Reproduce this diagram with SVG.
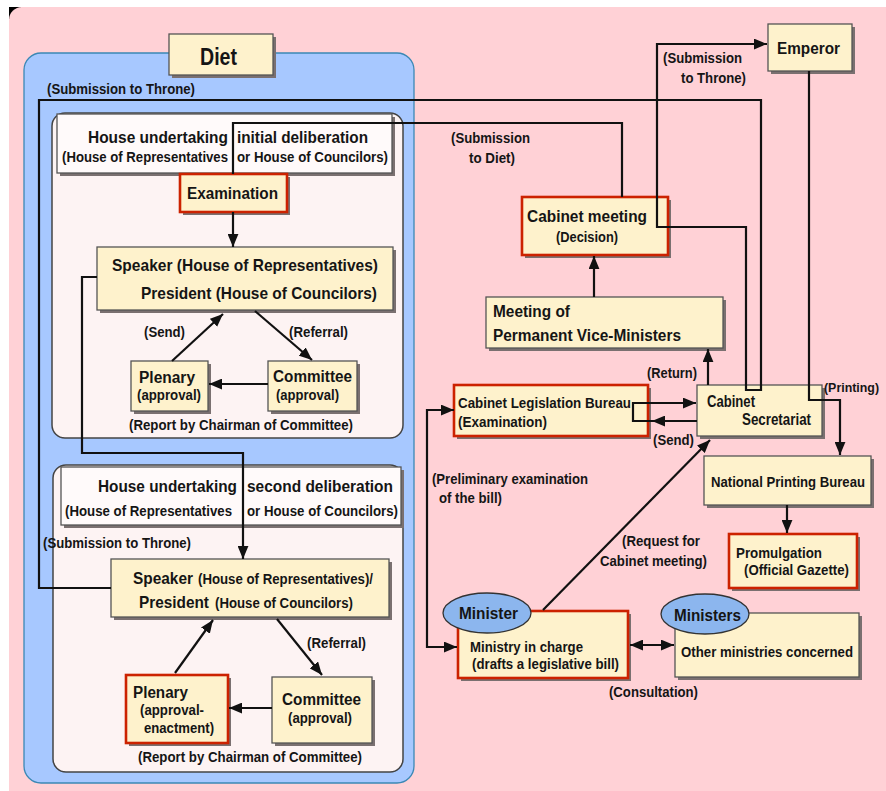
<svg xmlns="http://www.w3.org/2000/svg" width="886" height="791" viewBox="0 0 886 791">
<defs>
<style>
text { font-family: "Liberation Sans", Arial, sans-serif; font-weight: bold; fill: #151515; }
.f23 { font-size: 23px; }
.f17 { font-size: 17px; }
.f16 { font-size: 16px; }
.f15 { font-size: 15px; }
.f14 { font-size: 14px; }
.f13 { font-size: 13px; }
.box { fill: #fef2cc; stroke: #555; stroke-width: 1.3; }
.red { fill: #fef2cc; stroke: #cc2200; stroke-width: 2.6; }
.hdr { fill: #fffafa; stroke: #555; stroke-width: 1.3; }
.sh { fill: #7a7070; }
.ell { fill: #8cb6ee; stroke: #333; stroke-width: 1.3; }
.ln { fill: none; stroke: #111; stroke-width: 2.2; }
.ar { marker-end: url(#ah); }
.ar2 { marker-start: url(#ah); marker-end: url(#ah); }
</style>
<marker id="ah" viewBox="0 0 12 10" refX="12" refY="5" markerWidth="13" markerHeight="11" markerUnits="userSpaceOnUse" orient="auto-start-reverse">
<path d="M0,0 L12,5 L0,10 z" fill="#111"/>
</marker>
</defs>

<g id="background">
<rect x="0" y="0" width="886" height="791" fill="#ffffff"/>
<rect x="9" y="7" width="12" height="12" fill="#000"/>
<rect x="9" y="779" width="12" height="12" fill="#000"/>
<rect x="9" y="7" width="890" height="800" rx="13" fill="#ffd1d6"/>
</g>

<g id="diet-panel">
<rect x="24" y="53" width="390" height="730" rx="17" fill="#a7c8ff" stroke="#3b88b5" stroke-width="1.3"/>
</g>

<g id="diet">
<rect class="sh" x="172" y="37" width="104" height="41"/>
<rect class="box" x="169" y="34" width="104" height="41"/>
<text class="f23" x="200" y="65" textLength="37" lengthAdjust="spacingAndGlyphs">Diet</text>
</g>

<g id="house-initial">
<rect x="52" y="113" width="351" height="325" rx="13" fill="#fdf3f3" stroke="#444" stroke-width="1.5"/>
<rect class="sh" x="60" y="117" width="335" height="59"/>
<rect class="hdr" x="57" y="114" width="335" height="59"/>
<text class="f16" x="88" y="143" textLength="140" lengthAdjust="spacingAndGlyphs">House undertaking</text>
<text class="f16" x="237" y="143" textLength="131" lengthAdjust="spacingAndGlyphs">initial deliberation</text>
<text class="f15" x="62" y="162" textLength="166" lengthAdjust="spacingAndGlyphs">(House of Representatives</text>
<text class="f15" x="237" y="162" textLength="151" lengthAdjust="spacingAndGlyphs">or House of Councilors)</text>
</g>

<g id="examination">
<rect class="sh" x="183" y="177" width="107" height="38"/>
<rect class="red" x="180" y="174" width="107" height="38"/>
<text class="f16" x="187" y="199" textLength="91" lengthAdjust="spacingAndGlyphs">Examination</text>
</g>

<g id="speaker1">
<rect class="sh" x="100" y="250" width="296" height="63"/>
<rect class="box" x="97" y="247" width="296" height="63"/>
<text class="f17" x="112" y="271" textLength="266" lengthAdjust="spacingAndGlyphs">Speaker (House of Representatives)</text>
<text class="f17" x="141" y="299" textLength="236" lengthAdjust="spacingAndGlyphs">President (House of Councilors)</text>
</g>

<g id="plenary1">
<rect class="sh" x="134" y="364" width="77" height="50"/>
<rect class="box" x="131" y="361" width="77" height="50"/>
<text class="f16" x="139" y="383" textLength="56" lengthAdjust="spacingAndGlyphs">Plenary</text>
<text class="f14" x="137" y="400" textLength="64" lengthAdjust="spacingAndGlyphs">(approval)</text>
</g>

<g id="committee1">
<rect class="sh" x="271" y="364" width="89" height="50"/>
<rect class="box" x="268" y="361" width="89" height="50"/>
<text class="f16" x="273" y="382" textLength="79" lengthAdjust="spacingAndGlyphs">Committee</text>
<text class="f14" x="276" y="400" textLength="63" lengthAdjust="spacingAndGlyphs">(approval)</text>
</g>

<g id="house-second">
<rect x="53" y="465" width="350" height="307" rx="13" fill="#fdf3f3" stroke="#444" stroke-width="1.5"/>
<rect class="sh" x="64" y="470" width="340" height="58"/>
<rect class="hdr" x="61" y="467" width="340" height="58"/>
<text class="f16" x="98" y="492" textLength="139" lengthAdjust="spacingAndGlyphs">House undertaking</text>
<text class="f16" x="247" y="492" textLength="146" lengthAdjust="spacingAndGlyphs">second deliberation</text>
<text class="f15" x="65" y="516" textLength="167" lengthAdjust="spacingAndGlyphs">(House of Representatives</text>
<text class="f15" x="247" y="516" textLength="151" lengthAdjust="spacingAndGlyphs">or House of Councilors)</text>
</g>

<g id="speaker2">
<rect class="sh" x="114" y="562" width="278" height="58"/>
<rect class="box" x="111" y="559" width="278" height="58"/>
<text class="f17" x="133" y="584" textLength="60" lengthAdjust="spacingAndGlyphs">Speaker</text>
<text class="f14" x="198" y="584" textLength="175" lengthAdjust="spacingAndGlyphs">(House of Representatives)/</text>
<text class="f17" x="139" y="608" textLength="70" lengthAdjust="spacingAndGlyphs">President</text>
<text class="f14" x="215" y="608" textLength="138" lengthAdjust="spacingAndGlyphs">(House of Councilors)</text>
</g>

<g id="plenary2">
<rect class="sh" x="129" y="678" width="102" height="68"/>
<rect class="red" x="126" y="675" width="102" height="68"/>
<text class="f16" x="133" y="698" textLength="55" lengthAdjust="spacingAndGlyphs">Plenary</text>
<text class="f14" x="140" y="715" textLength="64" lengthAdjust="spacingAndGlyphs">(approval-</text>
<text class="f14" x="144" y="733" textLength="70" lengthAdjust="spacingAndGlyphs">enactment)</text>
</g>

<g id="committee2">
<rect class="sh" x="275" y="680" width="100" height="66"/>
<rect class="box" x="272" y="677" width="100" height="66"/>
<text class="f16" x="282" y="705" textLength="79" lengthAdjust="spacingAndGlyphs">Committee</text>
<text class="f14" x="288" y="723" textLength="64" lengthAdjust="spacingAndGlyphs">(approval)</text>
</g>

<g id="emperor">
<rect class="sh" x="771" y="27" width="84" height="47"/>
<rect class="box" x="768" y="24" width="84" height="47"/>
<text class="f16" x="777" y="54" textLength="63" lengthAdjust="spacingAndGlyphs">Emperor</text>
</g>

<g id="cabinet-meeting">
<rect class="sh" x="525" y="200" width="146" height="58"/>
<rect class="red" x="522" y="197" width="146" height="58"/>
<text class="f16" x="527" y="222" textLength="120" lengthAdjust="spacingAndGlyphs">Cabinet meeting</text>
<text class="f15" x="556" y="242" textLength="62" lengthAdjust="spacingAndGlyphs">(Decision)</text>
</g>

<g id="vice-ministers">
<rect class="sh" x="489" y="300" width="237" height="51"/>
<rect class="box" x="486" y="297" width="237" height="51"/>
<text class="f16" x="493" y="317" textLength="77" lengthAdjust="spacingAndGlyphs">Meeting of</text>
<text class="f16" x="493" y="341" textLength="188" lengthAdjust="spacingAndGlyphs">Permanent Vice-Ministers</text>
</g>

<g id="legislation-bureau">
<rect class="sh" x="457" y="388" width="194" height="51"/>
<rect class="red" x="454" y="385" width="194" height="51"/>
<text class="f15" x="458" y="408" textLength="173" lengthAdjust="spacingAndGlyphs">Cabinet Legislation Bureau</text>
<text class="f15" x="458" y="427" textLength="89" lengthAdjust="spacingAndGlyphs">(Examination)</text>
</g>

<g id="cabinet-secretariat">
<rect class="sh" x="700" y="388" width="125" height="51"/>
<rect class="box" x="697" y="385" width="125" height="51"/>
<text class="f16" x="707" y="407" textLength="48" lengthAdjust="spacingAndGlyphs">Cabinet</text>
<text class="f16" x="742" y="425" textLength="69" lengthAdjust="spacingAndGlyphs">Secretariat</text>
</g>

<g id="printing-bureau">
<rect class="sh" x="707" y="459" width="167" height="49"/>
<rect class="box" x="704" y="456" width="167" height="49"/>
<text class="f15" x="711" y="487" textLength="154" lengthAdjust="spacingAndGlyphs">National Printing Bureau</text>
</g>

<g id="promulgation">
<rect class="sh" x="732" y="537" width="128" height="54"/>
<rect class="red" x="729" y="534" width="128" height="54"/>
<text class="f15" x="736" y="558" textLength="86" lengthAdjust="spacingAndGlyphs">Promulgation</text>
<text class="f15" x="744" y="575" textLength="105" lengthAdjust="spacingAndGlyphs">(Official Gazette)</text>
</g>

<g id="ministry">
<rect class="sh" x="461" y="614" width="170" height="67"/>
<rect class="red" x="458" y="611" width="170" height="67"/>
<text class="f15" x="470" y="652" textLength="113" lengthAdjust="spacingAndGlyphs">Ministry in charge</text>
<text class="f15" x="472" y="669" textLength="147" lengthAdjust="spacingAndGlyphs">(drafts a legislative bill)</text>
<ellipse class="ell" cx="487" cy="613" rx="44" ry="20"/>
<text class="f17" x="459" y="619" textLength="59" lengthAdjust="spacingAndGlyphs">Minister</text>
</g>

<g id="other-ministries">
<rect class="sh" x="678" y="616" width="184" height="64"/>
<rect class="box" x="675" y="613" width="184" height="64"/>
<text class="f15" x="681" y="657" textLength="172" lengthAdjust="spacingAndGlyphs">Other ministries concerned</text>
<ellipse class="ell" cx="705" cy="614" rx="44" ry="20"/>
<text class="f17" x="674" y="621" textLength="67" lengthAdjust="spacingAndGlyphs">Ministers</text>
</g>

<g id="connectors">
<path class="ln ar" d="M111,588 H39 V100 H761 V390 H746 V227 H657 V44 H767"/>
<path class="ln" d="M622,197 V123 H233 V174"/>
<path class="ln ar" d="M233,212 V247"/>
<path class="ln ar" d="M97,277 H82 V453 H243 V559"/>
<path class="ln ar" d="M172,361 L223,314"/>
<path class="ln ar" d="M255,311 L312,360"/>
<path class="ln ar" d="M268,384 H209"/>
<path class="ln ar" d="M175,673 L213,620"/>
<path class="ln ar" d="M277,619 L322,675"/>
<path class="ln ar" d="M272,708 H229"/>
<path class="ln ar" d="M594,297 V256"/>
<path class="ln ar" d="M708,385 V349"/>
<path class="ln ar" d="M697,421 H652"/>
<path class="ln ar" d="M652,421 H633 V403 H696"/>
<path class="ln ar2" d="M454,410 H427 V647 H457"/>
<path class="ln ar" d="M543,610 L710,440"/>
<path class="ln ar2" d="M630,645 H674"/>
<path class="ln ar" d="M809,71 V400 H840 V455"/>
<path class="ln ar" d="M787,505 V533"/>
</g>

<g id="labels">
<text class="f15" x="47" y="94" textLength="148" lengthAdjust="spacingAndGlyphs">(Submission to Throne)</text>
<text class="f15" x="43" y="548" textLength="148" lengthAdjust="spacingAndGlyphs">(Submission to Throne)</text>
<text class="f14" x="144" y="337" textLength="41" lengthAdjust="spacingAndGlyphs">(Send)</text>
<text class="f14" x="289" y="337" textLength="59" lengthAdjust="spacingAndGlyphs">(Referral)</text>
<text class="f14" x="129" y="430" textLength="224" lengthAdjust="spacingAndGlyphs">(Report by Chairman of Committee)</text>
<text class="f14" x="307" y="648" textLength="59" lengthAdjust="spacingAndGlyphs">(Referral)</text>
<text class="f14" x="138" y="762" textLength="224" lengthAdjust="spacingAndGlyphs">(Report by Chairman of Committee)</text>
<text class="f15" x="663" y="63" textLength="79" lengthAdjust="spacingAndGlyphs">(Submission</text>
<text class="f15" x="681" y="83" textLength="65" lengthAdjust="spacingAndGlyphs">to Throne)</text>
<text class="f15" x="451" y="143" textLength="79" lengthAdjust="spacingAndGlyphs">(Submission</text>
<text class="f15" x="469" y="163" textLength="46" lengthAdjust="spacingAndGlyphs">to Diet)</text>
<text class="f15" x="647" y="378" textLength="50" lengthAdjust="spacingAndGlyphs">(Return)</text>
<text class="f15" x="653" y="445" textLength="41" lengthAdjust="spacingAndGlyphs">(Send)</text>
<text class="f13" x="824" y="392" textLength="55" lengthAdjust="spacingAndGlyphs">(Printing)</text>
<text class="f15" x="432" y="484" textLength="156" lengthAdjust="spacingAndGlyphs">(Preliminary examination</text>
<text class="f15" x="439" y="503" textLength="63" lengthAdjust="spacingAndGlyphs">of the bill)</text>
<text class="f15" x="622" y="546" textLength="78" lengthAdjust="spacingAndGlyphs">(Request for</text>
<text class="f15" x="600" y="566" textLength="107" lengthAdjust="spacingAndGlyphs">Cabinet meeting)</text>
<text class="f15" x="609" y="697" textLength="89" lengthAdjust="spacingAndGlyphs">(Consultation)</text>
</g>
</svg>
